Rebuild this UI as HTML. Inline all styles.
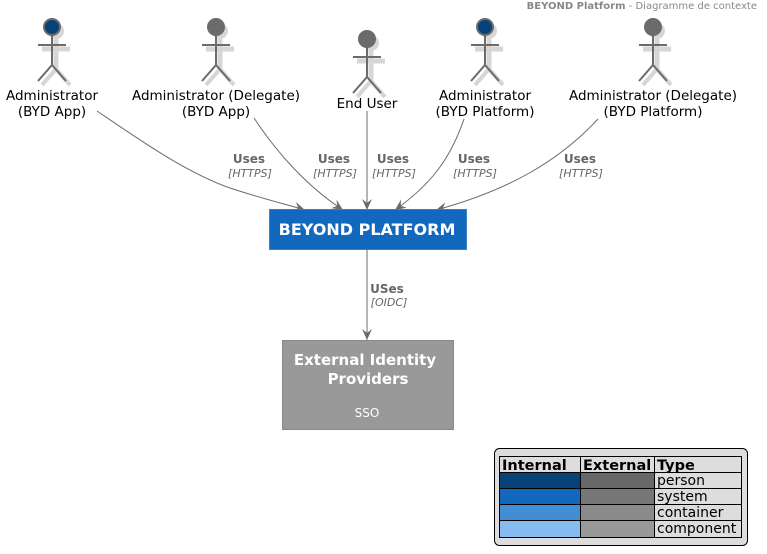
<!DOCTYPE html>
<html><head><meta charset="utf-8"><style>
html,body{margin:0;padding:0;background:#fff;}
svg{display:block;font-family:"DejaVu Sans","Liberation Sans",sans-serif;}
</style></head><body>
<svg width="767" height="554" viewBox="0 0 767 554" xmlns="http://www.w3.org/2000/svg">
<defs>
<g id="shadow">
  <circle cx="4" cy="4" r="8" fill="#d6d6d6"/>
  <line x1="4" y1="12" x2="4" y2="42" stroke="#d6d6d6" stroke-width="5"/>
  <line x1="-10" y1="22" x2="18" y2="22" stroke="#d6d6d6" stroke-width="5"/>
  <line x1="4" y1="42" x2="-10" y2="58" stroke="#d6d6d6" stroke-width="4"/>
  <line x1="4" y1="42" x2="18" y2="58" stroke="#d6d6d6" stroke-width="4"/>
</g>
<g id="body">
  <line x1="0" y1="8" x2="0" y2="38" stroke="#6b6b6b" stroke-width="2"/>
  <line x1="-14" y1="18" x2="14" y2="18" stroke="#6b6b6b" stroke-width="2"/>
  <line x1="0" y1="38" x2="-14" y2="54" stroke="#6b6b6b" stroke-width="2"/>
  <line x1="0" y1="38" x2="14" y2="54" stroke="#6b6b6b" stroke-width="2"/>
</g>
<marker id="ah" viewBox="0 0 12 10" refX="11" refY="5" markerWidth="12" markerHeight="10" markerUnits="userSpaceOnUse" orient="auto">
  <path d="M0,0 L11,5 L0,10 L4,5 Z" fill="#6b6b6b"/>
</marker>
</defs>

<text x="757" y="9" font-size="10" fill="#888" text-anchor="end"><tspan font-weight="bold">BEYOND Platform</tspan> - Diagramme de contexte</text>

<!-- actors -->
<g transform="translate(52,27)"><use href="#shadow"/><use href="#body"/><circle r="8" fill="#08427B" stroke="#6b6b6b" stroke-width="2"/></g>
<g transform="translate(216,27)"><use href="#shadow"/><use href="#body"/><circle r="8" fill="#6b6b6b" stroke="#6b6b6b" stroke-width="2"/></g>
<g transform="translate(367,39)"><use href="#shadow"/><use href="#body"/><circle r="8" fill="#6b6b6b" stroke="#6b6b6b" stroke-width="2"/></g>
<g transform="translate(485,27)"><use href="#shadow"/><use href="#body"/><circle r="8" fill="#08427B" stroke="#6b6b6b" stroke-width="2"/></g>
<g transform="translate(653,27)"><use href="#shadow"/><use href="#body"/><circle r="8" fill="#6b6b6b" stroke="#6b6b6b" stroke-width="2"/></g>

<g font-size="13.5" fill="#000" text-anchor="middle">
<text x="52" y="100">Administrator</text><text x="52" y="116">(BYD App)</text>
<text x="216" y="100">Administrator (Delegate)</text><text x="216" y="116">(BYD App)</text>
<text x="367" y="108">End User</text>
<text x="485" y="100">Administrator</text><text x="485" y="116">(BYD Platform)</text>
<text x="653" y="100">Administrator (Delegate)</text><text x="653" y="116">(BYD Platform)</text>
</g>

<!-- connectors -->
<g fill="none" stroke="#6b6b6b" stroke-width="1" marker-end="url(#ah)">
<path d="M97,111 C140,140 185,172 230,188 C260,198 285,204 305,210"/>
<path d="M254,118 C275,150 305,185 343,210"/>
<path d="M367,111 L367,210"/>
<path d="M464,119 C450,160 430,185 395,210"/>
<path d="M598,119 C560,160 510,190 436,210"/>
<path d="M367,249 L367,340"/>
</g>

<g font-size="12" fill="#666" text-anchor="middle">
<g font-weight="bold"><text x="249" y="163">Uses</text><text x="334" y="163">Uses</text><text x="393" y="163">Uses</text><text x="474" y="163">Uses</text><text x="580" y="163">Uses</text><text x="387" y="293">USes</text></g>
<g font-style="italic" font-size="11"><text x="250" y="177">[HTTPS]</text><text x="335" y="177">[HTTPS]</text><text x="394" y="177">[HTTPS]</text><text x="475" y="177">[HTTPS]</text><text x="581" y="177">[HTTPS]</text><text x="389" y="306">[OIDC]</text></g>
</g>

<!-- systems -->
<rect x="269.5" y="209.5" width="197" height="40" fill="#1168BD" stroke="#3C7FC0"/>
<text x="367" y="235" font-size="16" fill="#fff" text-anchor="middle" font-weight="bold">BEYOND PLATFORM</text>
<rect x="282.5" y="340.5" width="171" height="89" fill="#999" stroke="#8A8A8A"/>
<text x="365" y="365" font-size="15" fill="#fff" text-anchor="middle" font-weight="bold">External Identity</text>
<text x="368" y="384" font-size="15" fill="#fff" text-anchor="middle" font-weight="bold">Providers</text>
<text x="367" y="417" font-size="12" fill="#fff" text-anchor="middle">SSO</text>

<!-- legend -->
<rect x="494.5" y="448.5" width="253" height="97" rx="5" fill="#ddd" stroke="#000"/>
<g stroke="#000" stroke-width="1">
<rect x="499.5" y="456.5" width="242" height="16" fill="#ddd"/>
<rect x="499.5" y="472.5" width="81" height="16" fill="#08427B"/><rect x="580.5" y="472.5" width="74" height="16" fill="#686868"/><rect x="654.5" y="472.5" width="87" height="16" fill="#ddd"/>
<rect x="499.5" y="488.5" width="81" height="16" fill="#1168BD"/><rect x="580.5" y="488.5" width="74" height="16" fill="#777"/><rect x="654.5" y="488.5" width="87" height="16" fill="#ddd"/>
<rect x="499.5" y="504.5" width="81" height="16" fill="#438DD5"/><rect x="580.5" y="504.5" width="74" height="16" fill="#8a8a8a"/><rect x="654.5" y="504.5" width="87" height="16" fill="#ddd"/>
<rect x="499.5" y="520.5" width="81" height="17" fill="#85BBF0"/><rect x="580.5" y="520.5" width="74" height="17" fill="#999"/><rect x="654.5" y="520.5" width="87" height="17" fill="#ddd"/>
<line x1="580.5" y1="456.5" x2="580.5" y2="472.5"/><line x1="654.5" y1="456.5" x2="654.5" y2="472.5"/>
</g>
<g font-size="14" fill="#000">
<text x="502" y="470" font-weight="bold" font-size="14.5">Internal</text><text x="583" y="470" font-weight="bold" font-size="14.5">External</text><text x="657" y="470" font-weight="bold" font-size="14.5">Type</text>
<text x="657" y="485">person</text><text x="657" y="501">system</text><text x="657" y="517">container</text><text x="657" y="533">component</text>
</g>
</svg>
</body></html>
